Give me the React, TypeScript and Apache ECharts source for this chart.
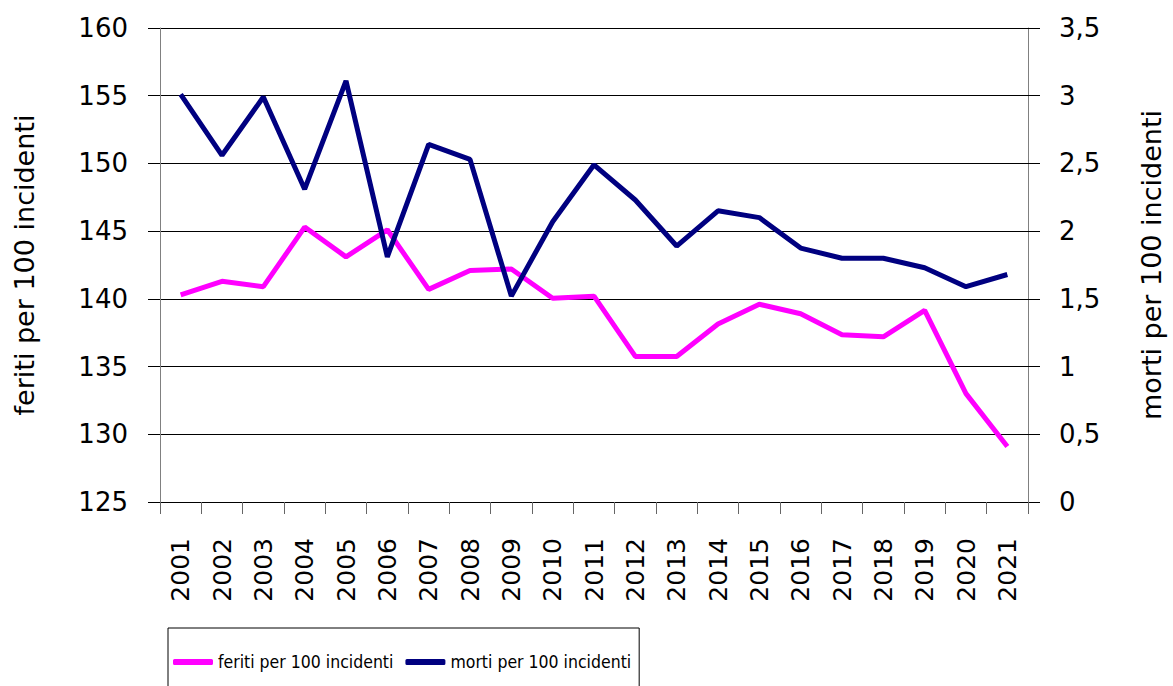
import React, { useEffect, useRef } from "react";
import * as echarts from "echarts";

const years = ["2001","2002","2003","2004","2005","2006","2007","2008","2009","2010","2011","2012","2013","2014","2015","2016","2017","2018","2019","2020","2021"];
const feriti = [140.3, 141.3, 140.9, 145.3, 143.1, 145.1, 140.7, 142.1, 142.2, 140.05, 140.2, 135.75, 135.75, 138.15, 139.6, 138.9, 137.35, 137.2, 139.15, 133.0, 129.1];
const morti = [3.01, 2.56, 2.99, 2.31, 3.11, 1.81, 2.64, 2.53, 1.52, 2.07, 2.49, 2.23, 1.89, 2.15, 2.1, 1.875, 1.8, 1.8, 1.73, 1.59, 1.68];
const leftName = "feriti per 100 incidenti";
const rightName = "morti per 100 incidenti";

const FONT = "DejaVu Sans";
const comma = (v: number) => String(v).replace(".", ",");

export default function App() {
  const ref = useRef<HTMLDivElement>(null);
  useEffect(() => {
    if (!ref.current) return;
    const chart = echarts.init(ref.current, null, { renderer: "svg" });
    chart.setOption({
      animation: false,
      backgroundColor: "#fff",
      grid: { left: 160, right: 141, top: 28, bottom: 184, containLabel: false },
      legend: {
        left: 168,
        top: 628,
        orient: "horizontal",
        padding: [25, 8, 40, 5],
        borderColor: "#000",
        borderWidth: 1,
        itemWidth: 40,
        itemHeight: 6,
        itemGap: 12,
        icon: "roundRect",
        textStyle: { fontFamily: "DejaVu Sans Condensed, DejaVu Sans", fontSize: 17.5, color: "#000" },
        data: [leftName, rightName],
      },
      xAxis: {
        type: "category",
        data: years,
        boundaryGap: true,
        axisLine: { lineStyle: { color: "#000", width: 1 } },
        axisTick: { show: true, length: 12, lineStyle: { color: "#666" } },
        axisLabel: { rotate: 90, margin: 36, fontFamily: FONT, fontSize: 25, color: "#000" },
      },
      yAxis: [
        {
          type: "value",
          min: 125,
          max: 160,
          interval: 5,
          name: leftName,
          nameLocation: "middle",
          nameGap: 122,
          nameRotate: 90,
          nameTextStyle: { fontFamily: FONT, fontSize: 27, color: "#000" },
          axisLine: { show: true, lineStyle: { color: "#808080" } },
          axisTick: { show: true, length: 12, lineStyle: { color: "#000" } },
          axisLabel: { margin: 32, fontFamily: FONT, fontSize: 26, color: "#000" },
          splitLine: { show: true, lineStyle: { color: "#000", width: 1 } },
        },
        {
          type: "value",
          min: 0,
          max: 3.5,
          interval: 0.5,
          position: "right",
          name: rightName,
          nameLocation: "middle",
          nameGap: 110,
          nameRotate: 90,
          nameTextStyle: { fontFamily: FONT, fontSize: 27, color: "#000" },
          axisLine: { show: true, lineStyle: { color: "#808080" } },
          axisTick: { show: true, length: 12, lineStyle: { color: "#000" } },
          axisLabel: { margin: 31, fontFamily: FONT, fontSize: 26, color: "#000", formatter: comma },
          splitLine: { show: false },
        },
      ],
      series: [
        {
          name: leftName,
          type: "line",
          yAxisIndex: 0,
          data: feriti,
          showSymbol: false,
          symbol: "none",
          lineStyle: { color: "#FF00FF", width: 5 },
          itemStyle: { color: "#FF00FF" },
        },
        {
          name: rightName,
          type: "line",
          yAxisIndex: 1,
          data: morti,
          showSymbol: false,
          symbol: "none",
          lineStyle: { color: "#000080", width: 5 },
          itemStyle: { color: "#000080" },
        },
      ],
    });
    return () => chart.dispose();
  }, []);
  return <div ref={ref} style={{ position: "fixed", left: 0, top: 0, width: 1173, height: 686 }} />;
}
